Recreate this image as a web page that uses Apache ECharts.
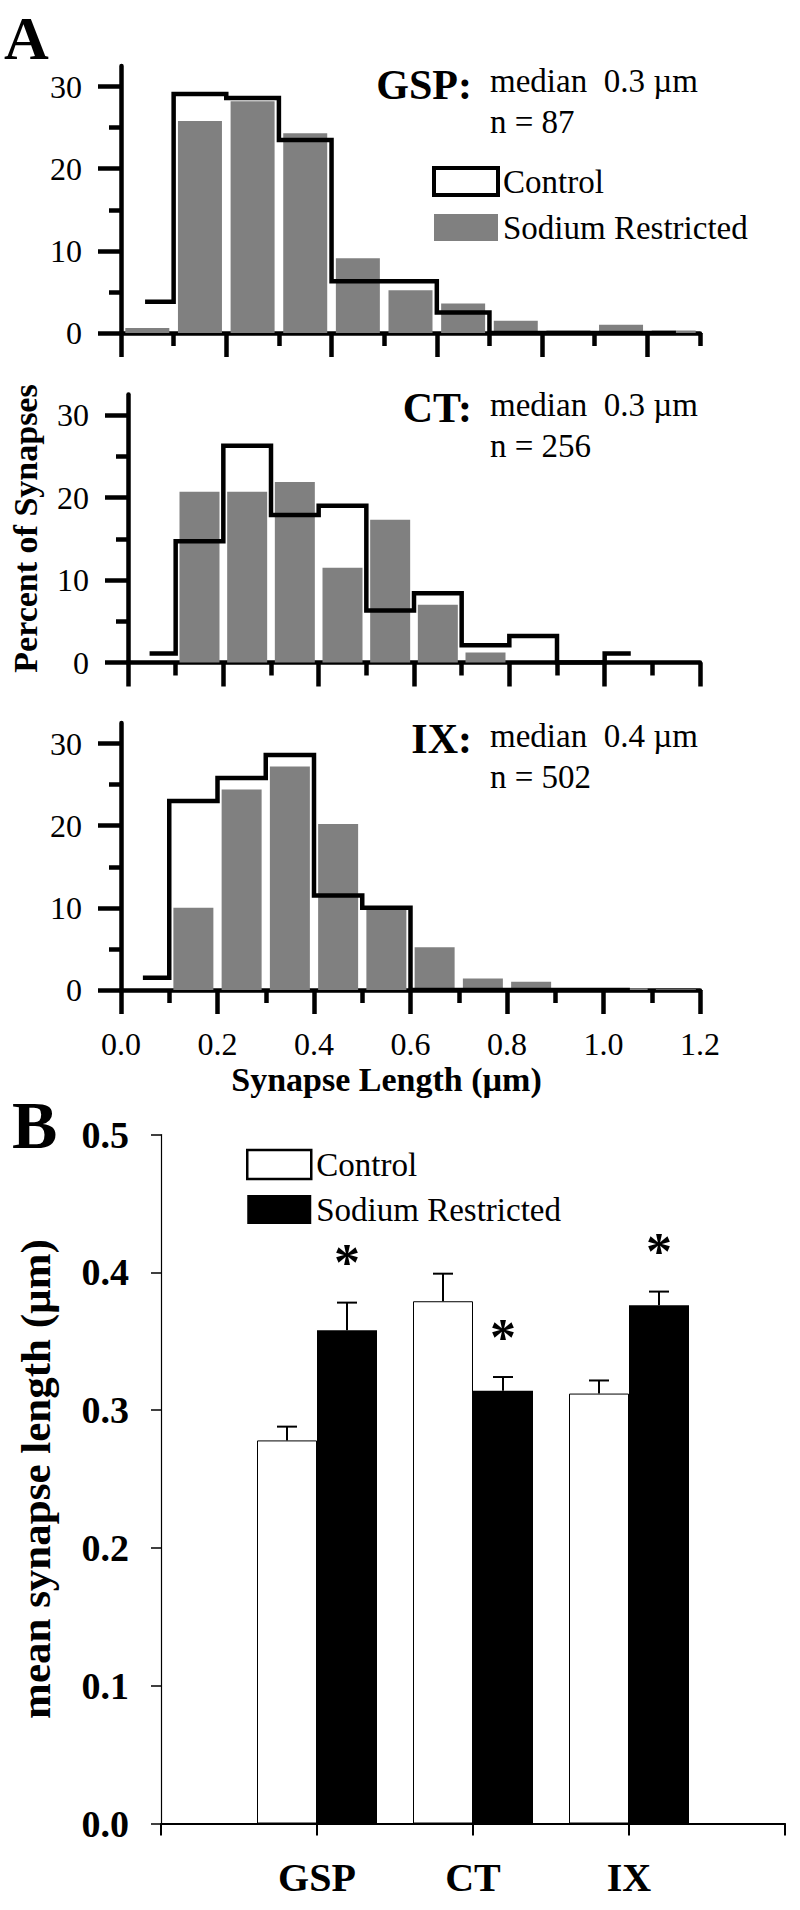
<!DOCTYPE html>
<html>
<head>
<meta charset="utf-8">
<script src="https://cdn.jsdelivr.net/npm/echarts@6/dist/echarts.min.js"></script>
<style>
  html, body { margin: 0; padding: 0; background: #fff; }
  #chart { width: 800px; height: 1910px; }
</style>
</head>
<body>
<div id="chart"></div>
<script>
// ---------- DATA ----------
const binCenters = [0.05, 0.15, 0.25, 0.35, 0.45, 0.55, 0.65, 0.75, 0.85, 0.95, 1.05, 1.15];

const gspSodium  = [0.6, 25.8, 28.2, 24.3, 9.1, 5.2, 3.6, 1.5, 0.3, 1.0, 0.3];
const gspControl = [3.8, 29.1, 28.6, 23.5, 6.3, 6.3, 2.5, 0, 0, 0, 0];
const ctSodium   = [0, 20.7, 20.7, 21.9, 11.5, 17.3, 7.0, 1.2, 0, 0, 0, 0];
const ctControl  = [1.1, 14.7, 26.3, 17.9, 19.0, 6.3, 8.4, 2.1, 3.2, 0, 1.1];
const ixSodium   = [0, 10.0, 24.4, 27.2, 20.2, 10.2, 5.2, 1.4, 1.0, 0.2, 0.2, 0.1];
const ixControl  = [1.5, 23.0, 25.8, 28.6, 11.5, 10.0, 0, 0, 0, 0, 0];

const panelNames = ['GSP', 'CT', 'IX'];
const panelMedians = ['0.3', '0.3', '0.4'];
const panelCounts = [87, 256, 502];
const panelXMax = [1.1, 1.2, 1.2];

const xMajorTicks11 = [0, 0.2, 0.4, 0.6, 0.8, 1.0];
const xMinorTicks11 = [0.1, 0.3, 0.5, 0.7, 0.9, 1.1];
const xMajorTicks12 = [0, 0.2, 0.4, 0.6, 0.8, 1.0, 1.2];
const xMinorTicks12 = [0.1, 0.3, 0.5, 0.7, 0.9, 1.1];
const yMajorTicks = [0, 10, 20, 30];
const yMinorTicks = [5, 15, 25];

const groups = ['GSP', 'CT', 'IX'];
const controlMean = [0.278, 0.379, 0.312];
const controlErr  = [0.010, 0.020, 0.0095];
const sodiumMean  = [0.358, 0.314, 0.376];
const sodiumErr   = [0.020, 0.010, 0.010];
const sodiumSignificant = [true, true, true];

// ---------- STYLE / LAYOUT ----------
const FONT = "'Liberation Serif','Times New Roman',serif";
const GRAY = '#808080';
const LW = 4.5;
const histGrids = [
  { left: 121, top: 66, width: 579, height: 267 },
  { left: 121, top: 394.5, width: 579, height: 268 },
  { left: 121, top: 723, width: 579, height: 267 }
];
const bGrid = { left: 161, top: 1134.5, width: 624, height: 689 };

const sodiumSets = [gspSodium, ctSodium, ixSodium];
const controlSets = [gspControl, ctControl, ixControl];
const barWidths = [44, 40, 40];

const xAxes = [], yAxes = [], series = [];

histGrids.forEach((g, i) => {
  const isLast = i === 2;
  const major = panelXMax[i] === 1.1 ? xMajorTicks11 : xMajorTicks12;
  const minor = panelXMax[i] === 1.1 ? xMinorTicks11 : xMinorTicks12;
  xAxes.push({
    type: 'value', gridIndex: i, position: 'bottom', min: 0, max: panelXMax[i],
    axisLine: { show: true, lineStyle: { color: '#000', width: LW } },
    axisTick: { show: true, customValues: major, length: 24, lineStyle: { color: '#000', width: LW } },
    axisLabel: isLast ? {
      show: true, customValues: major, margin: 38,
      formatter: v => Number(v).toFixed(1),
      fontSize: 32, fontFamily: FONT, color: '#000'
    } : { show: false },
    splitLine: { show: false },
    name: isLast ? 'Synapse Length (µm)' : '',
    nameLocation: 'middle', nameGap: 72,
    nameTextStyle: { fontSize: 34, fontWeight: 'bold', fontFamily: FONT, color: '#000', padding: [0, 48, 0, 0] }
  });
  xAxes.push({
    type: 'value', gridIndex: i, position: 'bottom', min: 0, max: panelXMax[i],
    axisLine: { show: false },
    axisTick: { show: true, customValues: minor, length: 13, lineStyle: { color: '#000', width: LW } },
    axisLabel: { show: false }, splitLine: { show: false }
  });
  yAxes.push({
    type: 'value', gridIndex: i, position: 'left', min: 0, max: 32.5,
    axisLine: { show: true, lineStyle: { color: '#000', width: LW } },
    axisTick: { show: true, customValues: yMajorTicks, length: 23, lineStyle: { color: '#000', width: LW } },
    axisLabel: { show: true, customValues: yMajorTicks, margin: 39, fontSize: 32, fontFamily: FONT, color: '#000' },
    splitLine: { show: false },
    name: i === 1 ? 'Percent of Synapses' : '',
    nameLocation: 'middle', nameGap: 86,
    nameTextStyle: { fontSize: 34, fontWeight: 'bold', fontFamily: FONT, color: '#000' }
  });
  yAxes.push({
    type: 'value', gridIndex: i, position: 'left', min: 0, max: 32.5,
    axisLine: { show: false },
    axisTick: { show: true, customValues: yMinorTicks, length: 12, lineStyle: { color: '#000', width: LW } },
    axisLabel: { show: false }, splitLine: { show: false }
  });

  series.push({
    type: 'bar', name: 'Sodium Restricted', xAxisIndex: 2 * i, yAxisIndex: 2 * i,
    barWidth: barWidths[i],
    itemStyle: { color: GRAY },
    data: sodiumSets[i].map((v, k) => [binCenters[k], v]),
    animation: false
  });
  series.push({
    type: 'line', name: 'Control', xAxisIndex: 2 * i, yAxisIndex: 2 * i,
    step: 'middle', symbol: 'none',
    lineStyle: { color: '#000', width: LW, join: 'miter', cap: 'square' },
    itemStyle: { color: '#000' },
    data: controlSets[i].map((v, k) => [binCenters[k], v]),
    z: 3, animation: false
  });
});

// Panel B axes
const bCategories = [''].concat(groups, ['']);
xAxes.push({
  type: 'category', gridIndex: 3, data: bCategories, boundaryGap: false,
  axisLine: { show: true, lineStyle: { color: '#000', width: 2 } },
  axisTick: { show: true, length: 12, lineStyle: { color: '#000', width: 2 } },
  axisLabel: { show: true, margin: 34, fontSize: 40, fontWeight: 'bold', fontFamily: FONT, color: '#000', interval: 0 },
  splitLine: { show: false }
});
yAxes.push({
  type: 'value', gridIndex: 3, min: 0, max: 0.5, interval: 0.1,
  axisLine: { show: true, lineStyle: { color: '#000', width: 1.2 } },
  axisTick: { show: true, length: 10, lineStyle: { color: '#000', width: 1.5 } },
  axisLabel: { show: true, margin: 32, fontSize: 38, fontWeight: 'bold', fontFamily: FONT, color: '#000',
               formatter: v => Number(v).toFixed(1) },
  splitLine: { show: false },
  name: 'mean synapse length (µm)', nameLocation: 'middle', nameGap: 104,
  nameTextStyle: { fontSize: 43, fontWeight: 'bold', fontFamily: FONT, color: '#000' }
});

const BX = 6, BY = 6, BAR_W = 60;
const pad = arr => ['-'].concat(arr, ['-']);
series.push({
  type: 'bar', name: 'Control', xAxisIndex: BX, yAxisIndex: BY, barWidth: BAR_W, barGap: '0%',
  itemStyle: { color: '#fff', borderColor: '#000', borderWidth: 1 },
  data: pad(controlMean), animation: false
});
series.push({
  type: 'bar', name: 'Sodium Restricted', xAxisIndex: BX, yAxisIndex: BY, barWidth: BAR_W, barGap: '0%',
  itemStyle: { color: '#000' },
  data: pad(sodiumMean), animation: false
});

function errorRenderer(offset) {
  return function (params, api) {
    const cat = api.value(0), m = api.value(1), e = api.value(2), sig = api.value(3);
    const base = api.coord([cat, m]);
    const top = api.coord([cat, m + e]);
    const cx = base[0] + offset;
    const children = [
      { type: 'line', shape: { x1: cx, y1: base[1], x2: cx, y2: top[1] },
        style: { stroke: '#000', lineWidth: 2 } },
      { type: 'line', shape: { x1: cx - 10, y1: top[1], x2: cx + 10, y2: top[1] },
        style: { stroke: '#000', lineWidth: 2 } }
    ];
    if (sig) {
      children.push({ type: 'text', x: cx, y: top[1] - 40,
        style: { text: '*', fill: '#000', fontSize: 52, fontWeight: 'bold', fontFamily: FONT,
                 align: 'center', verticalAlign: 'middle' } });
    }
    return { type: 'group', children };
  };
}
series.push({
  type: 'custom', name: 'Control SEM', xAxisIndex: BX, yAxisIndex: BY,
  renderItem: errorRenderer(-BAR_W / 2),
  data: groups.map((g, k) => [k + 1, controlMean[k], controlErr[k], 0]),
  z: 5, animation: false
});
series.push({
  type: 'custom', name: 'Sodium SEM', xAxisIndex: BX, yAxisIndex: BY,
  renderItem: errorRenderer(BAR_W / 2),
  data: groups.map((g, k) => [k + 1, sodiumMean[k], sodiumErr[k], sodiumSignificant[k] ? 1 : 0]),
  z: 5, animation: false
});

// Annotations
const titleY = [84.5, 407.5, 738.5];
const medianY = [81, 405, 736];
const countY = [122, 446, 777];
const graphics = [
  { type: 'text', x: 4, y: 38, style: { text: 'A', fontSize: 62, fontWeight: 'bold', fontFamily: FONT, fill: '#000', align: 'left', verticalAlign: 'middle' } },
  { type: 'text', x: 12, y: 1125, style: { text: 'B', fontSize: 68, fontWeight: 'bold', fontFamily: FONT, fill: '#000', align: 'left', verticalAlign: 'middle' } }
];
panelNames.forEach((nm, i) => {
  graphics.push({ type: 'text', x: 472, y: titleY[i], style: { text: nm + ':', fontSize: 42, fontWeight: 'bold', fontFamily: FONT, fill: '#000', align: 'right', verticalAlign: 'middle' } });
  graphics.push({ type: 'text', x: 490, y: medianY[i], style: { text: 'median  ' + panelMedians[i] + ' µm', fontSize: 33, fontFamily: FONT, fill: '#000', align: 'left', verticalAlign: 'middle' } });
  graphics.push({ type: 'text', x: 490, y: countY[i], style: { text: 'n = ' + panelCounts[i], fontSize: 33, fontFamily: FONT, fill: '#000', align: 'left', verticalAlign: 'middle' } });
});

const option = {
  backgroundColor: '#fff',
  animation: false,
  grid: histGrids.concat([bGrid]),
  xAxis: xAxes,
  yAxis: yAxes,
  legend: [
    {
      left: 427, top: 160, orient: 'vertical', itemWidth: 64, itemHeight: 27, itemGap: 13,
      selectedMode: false,
      textStyle: { fontSize: 33, fontFamily: FONT, color: '#000' },
      data: [
        { name: 'Control', icon: 'rect', itemStyle: { color: '#fff', borderColor: '#000', borderWidth: 4 } },
        { name: 'Sodium Restricted', icon: 'rect', itemStyle: { color: GRAY, borderWidth: 0 } }
      ]
    },
    {
      left: 241, top: 1143, orient: 'vertical', itemWidth: 64, itemHeight: 29, itemGap: 12,
      selectedMode: false,
      textStyle: { fontSize: 33, fontFamily: FONT, color: '#000' },
      data: [
        { name: 'Control', icon: 'rect', itemStyle: { color: '#fff', borderColor: '#000', borderWidth: 2.5 } },
        { name: 'Sodium Restricted', icon: 'rect', itemStyle: { color: '#000', borderWidth: 0 } }
      ]
    }
  ],
  graphic: graphics,
  series: series
};

const chart = echarts.init(document.getElementById('chart'), null, { renderer: 'svg' });
chart.setOption(option);
</script>
</body>
</html>
